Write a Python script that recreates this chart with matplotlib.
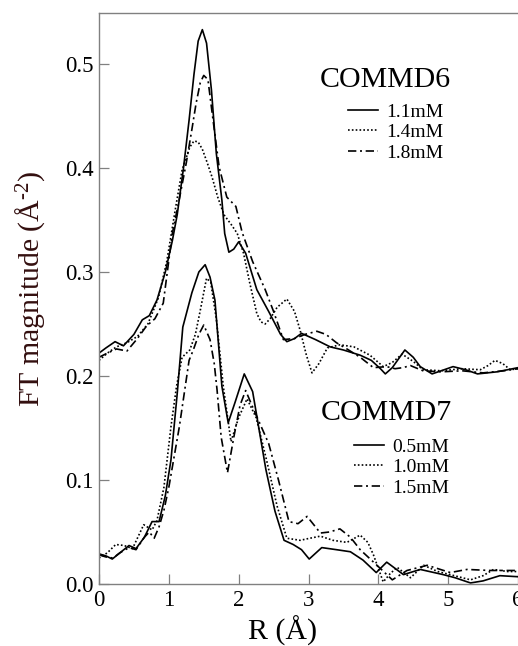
import numpy as np
import matplotlib
matplotlib.use("Agg")
import matplotlib.pyplot as plt

plt.rcParams['font.family'] = ['Liberation Serif', 'DejaVu Serif']
plt.rcParams['mathtext.fontset'] = 'custom'
plt.rcParams['mathtext.rm'] = 'Liberation Serif'
plt.rcParams['mathtext.it'] = 'Liberation Serif:italic'

# COMMD6 (upper set)
r6_a = [0.0, 0.1, 0.23, 0.35, 0.5, 0.62, 0.72, 0.83, 0.95, 1.05, 1.12, 1.21, 1.29, 1.36, 1.42, 1.48,
        1.54, 1.61, 1.68, 1.76, 1.8, 1.86, 1.93, 2.0, 2.1, 2.26, 2.43, 2.6, 2.69, 2.8, 2.9, 3.1, 3.31,
        3.5, 3.74, 3.9, 4.03, 4.1, 4.2, 4.38, 4.5, 4.6, 4.77, 4.9, 5.07, 5.25, 5.42, 5.7, 6.0]
v6_a = [0.222, 0.227, 0.233, 0.229, 0.24, 0.254, 0.258, 0.273, 0.3, 0.33, 0.355, 0.4, 0.446, 0.49, 0.522, 0.533,
        0.52, 0.475, 0.414, 0.369, 0.337, 0.319, 0.322, 0.329, 0.318, 0.283, 0.262, 0.24, 0.233, 0.236, 0.241, 0.235, 0.228,
        0.225, 0.22, 0.215, 0.207, 0.202, 0.208, 0.225, 0.218, 0.209, 0.202, 0.205, 0.209, 0.206, 0.202, 0.204, 0.208]

r6_b = [0.0, 0.12, 0.25, 0.4, 0.55, 0.7, 0.85, 0.97, 1.1, 1.19, 1.3, 1.36, 1.42, 1.48, 1.55, 1.62, 1.7, 1.79,
        1.9, 1.98, 2.07, 2.16, 2.26, 2.32, 2.38, 2.45, 2.55, 2.69, 2.8, 2.88, 2.97, 3.05, 3.15, 3.27, 3.45,
        3.65, 3.88, 4.07, 4.2, 4.34, 4.5, 4.64, 4.9, 5.2, 5.46, 5.57, 5.67, 5.78, 5.89, 6.0]
v6_b = [0.215, 0.222, 0.228, 0.232, 0.238, 0.25, 0.275, 0.31, 0.363, 0.398, 0.42, 0.426, 0.425, 0.418, 0.405, 0.391, 0.372, 0.355,
        0.345, 0.337, 0.318, 0.289, 0.26, 0.252, 0.25, 0.255, 0.266, 0.274, 0.262, 0.244, 0.22, 0.203, 0.212, 0.227, 0.23,
        0.228, 0.22, 0.209, 0.213, 0.221, 0.214, 0.206, 0.205, 0.207, 0.206, 0.21, 0.215, 0.212, 0.206, 0.207]

r6_c = [0.0, 0.12, 0.25, 0.4, 0.55, 0.68, 0.8, 0.92, 1.05, 1.15, 1.25, 1.33, 1.39, 1.45, 1.5, 1.56, 1.62,
        1.72, 1.83, 1.96, 2.05, 2.2, 2.38, 2.5, 2.64, 2.8, 2.95, 3.12, 3.25, 3.4, 3.55, 3.74, 3.93, 4.12,
        4.24, 4.35, 4.46, 4.64, 4.9, 5.2, 5.5, 5.8, 6.0]
v6_c = [0.218, 0.222, 0.226, 0.224, 0.236, 0.248, 0.255, 0.27, 0.337, 0.37, 0.405, 0.437, 0.462, 0.482, 0.489, 0.485, 0.453,
        0.401, 0.372, 0.363, 0.338, 0.31, 0.283, 0.262, 0.235, 0.236, 0.24, 0.243, 0.24, 0.232, 0.226, 0.218, 0.208, 0.209,
        0.207, 0.208, 0.21, 0.205, 0.204, 0.205, 0.203, 0.205, 0.207]

# COMMD7 (lower set)
r7_a = [0.0, 0.1, 0.19, 0.3, 0.43, 0.53, 0.65, 0.76, 0.86, 0.95, 1.03, 1.12, 1.2, 1.33, 1.43, 1.52, 1.59, 1.66,
        1.76, 1.85, 1.95, 2.08, 2.2, 2.39, 2.52, 2.65, 2.78, 2.9, 3.01, 3.19, 3.4, 3.6, 3.78, 3.97, 4.12,
        4.36, 4.6, 4.93, 5.1, 5.32, 5.5, 5.74, 6.0]
v7_a = [0.029, 0.027, 0.024, 0.03, 0.037, 0.034, 0.045, 0.06, 0.06, 0.085, 0.119, 0.183, 0.247, 0.28, 0.3, 0.307, 0.295, 0.273,
        0.19, 0.155, 0.175, 0.202, 0.185, 0.11, 0.07, 0.042, 0.038, 0.033, 0.024, 0.035, 0.033, 0.031, 0.023, 0.011, 0.021,
        0.009, 0.014, 0.009, 0.006, 0.001, 0.003, 0.008, 0.007]

r7_b = [0.0, 0.12, 0.24, 0.36, 0.48, 0.64, 0.76, 0.83, 0.93, 1.03, 1.11, 1.19, 1.3, 1.38, 1.45, 1.54, 1.6, 1.68,
        1.78, 1.89, 2.0, 2.12, 2.25, 2.4, 2.55, 2.69, 2.88, 3.02, 3.17, 3.35, 3.55, 3.74, 3.85, 3.93, 4.07,
        4.17, 4.27, 4.46, 4.65, 4.85, 5.03, 5.32, 5.5, 5.65, 5.85, 6.0]
v7_b = [0.025, 0.03, 0.038, 0.037, 0.034, 0.057, 0.052, 0.061, 0.093, 0.151, 0.19, 0.218, 0.225, 0.24, 0.263, 0.294, 0.29, 0.255,
        0.19, 0.137, 0.16, 0.178, 0.16, 0.119, 0.075, 0.044, 0.042, 0.044, 0.046, 0.042, 0.04, 0.047, 0.04, 0.028, 0.002,
        0.01, 0.016, 0.006, 0.018, 0.012, 0.009, 0.004, 0.008, 0.014, 0.012, 0.012]

r7_c = [0.0, 0.1, 0.2, 0.3, 0.43, 0.53, 0.65, 0.72, 0.79, 0.86, 0.93, 1.0, 1.15, 1.29, 1.35, 1.43, 1.5, 1.59,
        1.65, 1.69, 1.75, 1.84, 1.93, 2.02, 2.1, 2.22, 2.43, 2.57, 2.72, 2.85, 2.98, 3.17, 3.3, 3.45, 3.6,
        3.74, 3.98, 4.2, 4.41, 4.7, 5.03, 5.27, 5.6, 6.0]
v7_c = [0.028, 0.026, 0.025, 0.03, 0.035, 0.033, 0.045, 0.05, 0.044, 0.055, 0.071, 0.093, 0.151, 0.215, 0.225, 0.24, 0.249, 0.235,
        0.212, 0.187, 0.141, 0.107, 0.141, 0.172, 0.186, 0.167, 0.135, 0.1, 0.06, 0.058, 0.065, 0.049, 0.05, 0.053, 0.045,
        0.033, 0.018, 0.004, 0.013, 0.018, 0.011, 0.014, 0.013, 0.013]

labels6 = ['1.1mM', '1.4mM', '1.8mM']
labels7 = ['0.5mM', '1.0mM', '1.5mM']

W, H = 518, 646
fig = plt.figure(figsize=(W / 100, H / 100), dpi=100)
ax = fig.add_axes([99 / W, (H - 584) / H, 419 / W, 571 / H])

solid = '-'
dotted = (0, (1, 1.3))
dashdot = (0, (5, 2.2, 1.2, 2.2))
lw = 1.2

l6 = []
l6 += ax.plot(r6_a, v6_a, color='black', lw=lw, ls=solid)
l6 += ax.plot(r6_b, v6_b, color='black', lw=lw, ls=dotted)
l6 += ax.plot(r6_c, v6_c, color='black', lw=lw, ls=dashdot)
l7 = []
l7 += ax.plot(r7_a, v7_a, color='black', lw=lw, ls=solid)
l7 += ax.plot(r7_b, v7_b, color='black', lw=lw, ls=dotted)
l7 += ax.plot(r7_c, v7_c, color='black', lw=lw, ls=dashdot)

ax.set_xlim(0, 6)
ax.set_ylim(0, 0.549)
ax.set_xticks(np.arange(0, 7, 1))
ax.set_yticks(np.arange(0, 0.6, 0.1))
ax.yaxis.set_major_formatter(matplotlib.ticker.FormatStrFormatter('%.1f'))
ax.tick_params(direction='in', length=7, width=0.9, color='#808080', labelsize=16.5, pad=4)
for s in ['left', 'bottom', 'top']:
    ax.spines[s].set_color('#808080')
    ax.spines[s].set_linewidth(1.0)
ax.spines['right'].set_visible(False)

ax.set_xlabel('R (Å)', fontsize=21.5)
ax.xaxis.set_label_coords((283 - 99) / 419, -0.055)
ax.set_ylabel(r'FT magnitude (Å$^{\text{-}2}$)', fontsize=21.5, color='#330f0f')
ax.yaxis.set_label_coords((47 - 99) / 419, (584 - 289) / 571)

# group titles
ax.text(385 / W, 1 - 80 / H, 'COMMD6', fontsize=21.5, ha='center', va='center',
        transform=fig.transFigure)
ax.text(386 / W, 1 - 413 / H, 'COMMD7', fontsize=21.5, ha='center', va='center',
        transform=fig.transFigure)

kw = dict(frameon=False, fontsize=14, handlelength=1.55, handletextpad=0.4,
          labelspacing=0.15, borderpad=0, borderaxespad=0, loc='upper left',
          bbox_transform=fig.transFigure)
leg6 = ax.legend(l6, labels6, bbox_to_anchor=(348 / W, 1 - 103 / H), **kw)
ax.add_artist(leg6)
leg7 = ax.legend(l7, labels7, bbox_to_anchor=(354 / W, 1 - 438 / H), **kw)

fig.savefig('out.png', dpi=100)
